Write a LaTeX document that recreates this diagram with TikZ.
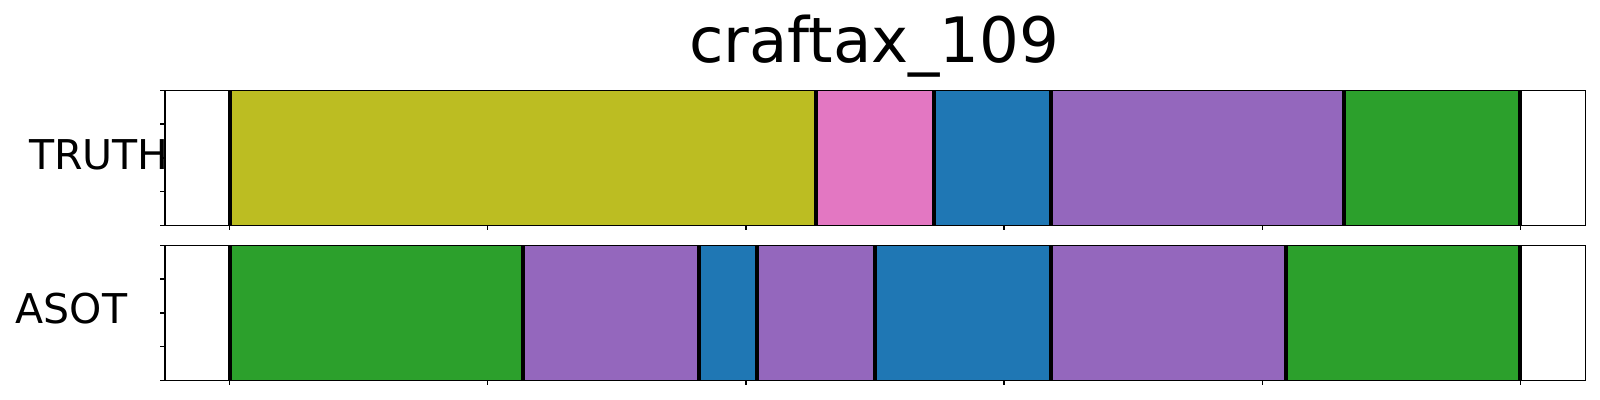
\documentclass[tikz,border=0pt]{standalone}
\usepackage{fontspec}
\setmainfont{DejaVu Sans}
\usetikzlibrary{positioning}
\definecolor{tabolive}{HTML}{BCBD22}
\definecolor{tabpink}{HTML}{E377C2}
\definecolor{tabblue}{HTML}{1F77B4}
\definecolor{tabpurple}{HTML}{9467BD}
\definecolor{tabgreen}{HTML}{2CA02C}
\begin{document}
\begin{tikzpicture}[x=0.01cm, y=0.01cm, node distance=0.2cm,
    frame/.style={draw, line width=0.015cm, inner sep=0, outer sep=0, minimum width=14.2cm, minimum height=1.35cm},
    bound/.style={line width=0.04cm},
    tick/.style={line width=0.015cm},
    lab/.style={inner sep=0, anchor=base west, font=\fontsize{11.67}{14}\selectfont}]
    \useasboundingbox (0,0) rectangle (1600,400);

    % Segments of the two rows
    \foreach \a/\b/\c in {229.5/816/tabolive, 816/934/tabpink, 934/1051/tabblue, 1051/1344/tabpurple, 1344/1520/tabgreen}
        \fill[\c] (\a,174.7) rectangle (\b,309.7);
    \foreach \a/\b/\c in {229.5/523/tabgreen, 523/698.7/tabpurple, 698.7/757/tabblue, 757/875/tabpurple, 875/1051/tabblue, 1051/1286/tabpurple, 1286/1520/tabgreen}
        \fill[\c] (\a,19.7) rectangle (\b,154.7);

    % Boundaries
    \foreach \x in {229.5, 816, 934, 1051, 1344, 1520}
        \draw[bound] (\x,174.7) -- (\x,309.7);
    \foreach \x in {229.5, 523, 698.7, 757, 875, 1051, 1286, 1520}
        \draw[bound] (\x,19.7) -- (\x,154.7);

    % Axes
    \node (truth) [frame] at (875.3,242.2) {};
    \node (asot) [frame, below=of truth] {};

    \foreach \i in {0,...,5} {
        \draw[tick] (229.5+258.2*\i,174.7) -- ++(0,-5);
        \draw[tick] (229.5+258.2*\i,19.7) -- ++(0,-5);
    }
    \foreach \i in {0,...,4} {
        \draw[tick] (165.3,174.7+33.75*\i) -- ++(-5,0);
        \draw[tick] (165.3,19.7+33.75*\i) -- ++(-5,0);
    }

    % Labels
    \node (title) [inner sep=0, anchor=base, font=\fontsize{17.8}{21}\selectfont] at (874.3,337.7) {craftax\_109};
    \node (truthlab) [lab] at (28.3,230.7) {TRUTH};
    \node (asotlab) [lab] at (15,76.7) {ASOT};

\end{tikzpicture}
\end{document}
